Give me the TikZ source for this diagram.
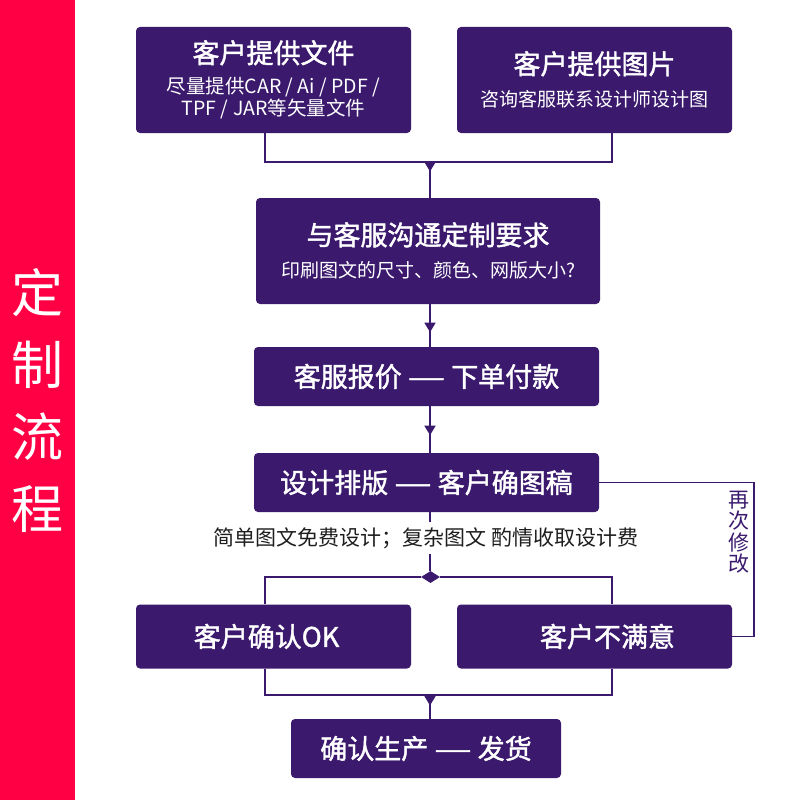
\documentclass[tikz,border=0pt]{standalone}
\usepackage{fontspec}
\setmainfont{Noto Sans CJK SC}
\newfontfamily\medfont{Noto Sans CJK SC}[FakeBold=1.6]
\usetikzlibrary{shapes.geometric,arrows.meta,decorations.markings}
\definecolor{pur}{RGB}{59,26,110}
\definecolor{barred}{RGB}{255,0,68}
\definecolor{note}{RGB}{30,30,30}
\newcommand{\wdash}{\scalebox{1.55}[1]{—}}
\tikzset{
  box/.style={draw=none,fill=pur,rounded corners=4pt,inner sep=0pt,text=white},
  boxtxt/.style={font=\fontsize{27}{32}\medfont},
  ttl/.style={text=white,inner sep=0pt,font=\fontsize{27}{32}\medfont},
  sub/.style={text=white,inner sep=0pt,font=\fontsize{19}{23}\selectfont},
  conn/.style={draw=pur,line width=1.5pt},
  midarrow/.style={postaction={decorate,decoration={markings,
      mark=at position #1 with {\arrow{Triangle[width=11pt,length=9.5pt]}}}}},
}
\begin{document}
\begin{tikzpicture}[x=1pt,y=-1pt]
\useasboundingbox (0,0) rectangle (800,800);
\fill[white] (0,0) rectangle (800,800);
% left bar
\fill[barred] (0,0) rectangle (75,800);
\node[text=white,align=center,inner sep=0pt,font=\fontsize{52}{72}\selectfont] (bar) at (37,400) {定\\制\\流\\程};

% guide coordinates
\coordinate (T) at (430,0);
\coordinate (L) at (265,0);
\coordinate (R) at (612,0);
\coordinate (J1) at (430,162);
\coordinate (J2) at (430,695);

% boxes
\node[box,minimum width=275pt,minimum height=106pt] (b1) at (273.5,80) {};
\node[ttl] (b1t) at ([yshift=-26pt]b1.north) {客户提供文件};
\node[sub,font=\fontsize{19.5}{23}\selectfont] (b1s1) at ([yshift=-60pt]b1.north) {尽量提供CAR / Ai / PDF /};
\node[sub,font=\fontsize{19.5}{23}\selectfont] (b1s2) at ([yshift=-82pt]b1.north) {TPF / JAR等矢量文件};

\node[box,minimum width=275pt,minimum height=106pt] (b2) at (594.5,80) {};
\node[ttl] (b2t) at ([yshift=-37pt]b2.north) {客户提供图片};
\node[sub] (b2s) at ([yshift=-72pt]b2.north) {咨询客服联系设计师设计图};

\node[box,minimum width=344pt,minimum height=106pt] (b3) at (428,251) {};
\node[ttl] (b3t) at ([yshift=-37pt]b3.north) {与客服沟通定制要求};
\node[sub] (b3s) at ([yshift=-72pt]b3.north) {印刷图文的尺寸、颜色、网版大小?};

\node[box,boxtxt,minimum width=345pt,minimum height=59pt] (b4) at (426.5,376.5) {客服报价 \wdash{} 下单付款};
\node[box,boxtxt,minimum width=345pt,minimum height=59pt] (b5) at (426.5,482.5) {设计排版 \wdash{} 客户确图稿};

\node[box,boxtxt,minimum width=275pt,minimum height=64pt] (b6) at (273.5,636.5) {客户确认OK\hspace*{14pt}};
\node[box,boxtxt,minimum width=275pt,minimum height=64pt] (b7) at (594.5,636.5) {\hspace*{26pt}客户不满意};

\node[box,boxtxt,minimum width=270pt,minimum height=59pt] (b8) at (426,748.5) {确认生产 \wdash{} 发货};

% diamond
\node[diamond,fill=pur,inner sep=0pt,minimum width=19pt,minimum height=12pt,aspect=1.6] (dia) at (430.5,577) {};

% connectors
\draw[conn] (b1.south -| L) |- (J1) -| (b2.south -| R);
\draw[conn,midarrow=9.5pt] (J1) -- (b3.north -| J1);
\draw[conn,midarrow=28pt] (b3.south -| T) -- (b4.north -| T);
\draw[conn,midarrow=29pt] (b4.south -| T) -- (b5.north -| T);
\draw[conn] (b5.south -| T) -- (dia.north -| T);
\node[fill=white,text=note,inner sep=5pt,font=\fontsize{21}{24}\selectfont] (note) at (426,538) {简单图文免费设计；复杂图文 酌情收取设计费};
\draw[conn] (b6.north -| L) |- (dia.west);
\draw[conn] (b7.north -| R) |- (dia.east);
\draw[conn] (b6.south -| L) |- (J2) -| (b7.south -| R);
\draw[conn,midarrow=10.5pt] (J2) -- (b8.north -| J2);
% feedback loop
\draw[conn] (b5.east) -- (754,482.5) |- (b7.east);
\node[text=pur,align=center,inner sep=0pt,font=\fontsize{21}{21.5}\selectfont] (again) at (739,532) {再\\次\\修\\改};
\end{tikzpicture}
\end{document}
